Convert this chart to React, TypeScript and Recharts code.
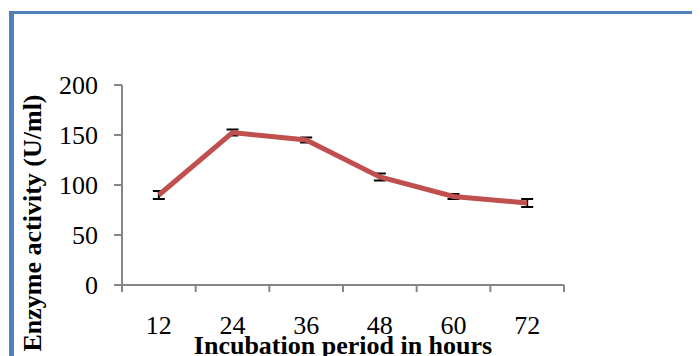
import React from 'react';
import { LineChart, Line, XAxis, YAxis, ErrorBar, Label } from 'recharts';

const categories = ['12', '24', '36', '48', '60', '72'];
const activity = [90, 152.5, 145, 108, 88.5, 82];
const errors = [4, 3, 2.5, 3.5, 2.5, 4];
const yTicks = [0, 50, 100, 150, 200];

const data = categories.map((c, i) => ({ hour: c, value: activity[i], err: errors[i] }));

const FONT = '"Liberation Serif", "Times New Roman", serif';
const AXIS = '#868686';

const XTick = (props: any) => {
  const { x, y, payload, index, visibleTicksCount } = props;
  const half = payload && payload.offset ? payload.offset : 0;
  const axisY = 277;
  const last = index === visibleTicksCount - 1;
  return (
    <g>
      <line x1={x - half} x2={x - half} y1={axisY} y2={axisY + 7} stroke={AXIS} strokeWidth={2} />
      {last && <line x1={x + half} x2={x + half} y1={axisY} y2={axisY + 7} stroke={AXIS} strokeWidth={2} />}
      <text x={x} y={326} textAnchor="middle" fontSize={26} fontFamily={FONT} fill="#000">
        {payload.value}
      </text>
    </g>
  );
};

const YTick = (props: any) => {
  const { y, payload } = props;
  return (
    <text x={90} y={y} dy="0.34em" textAnchor="end" fontSize={26} fontFamily={FONT} fill="#000">
      {payload.value}
    </text>
  );
};

export default function App() {
  return (
    <div style={{ position: 'relative', width: 692, height: 348 }}>
      <div
        style={{
          position: 'absolute',
          left: 1,
          top: 3,
          width: 691,
          height: 345,
          borderTop: '3px solid #4F81BD',
          borderLeft: '5px solid #4F81BD',
          boxSizing: 'border-box',
        }}
      />
      <div style={{ position: 'absolute', left: 0, top: 0 }}>
        <LineChart
          width={692}
          height={348}
          data={data}
          margin={{ top: 77, right: 136, bottom: 0, left: 0 }}
        >
          <XAxis
            dataKey="hour"
            scale="band"
            height={71}
            stroke={AXIS}
            strokeWidth={2}
            tickLine={false}
            tick={<XTick />}
            interval={0}
          >
            <Label
              content={() => (
                <text x={335} y={346} textAnchor="middle" fontSize={26} fontWeight="bold" fontFamily={FONT} fill="#000">
                  Incubation period in hours
                </text>
              )}
            />
          </XAxis>
          <YAxis
            width={114}
            domain={[0, 200]}
            ticks={yTicks}
            stroke={AXIS}
            strokeWidth={2}
            tickSize={8}
            tick={<YTick />}
            interval={0}
          >
            <Label
              content={() => (
                <text
                  x={0}
                  y={0}
                  transform="translate(33,215) rotate(-90)"
                  textAnchor="middle"
                  fontSize={26}
                  fontWeight="bold"
                  fontFamily={FONT}
                  fill="#000"
                >
                  Enzyme activity (U/ml)
                </text>
              )}
            />
          </YAxis>
          <Line
            type="linear"
            dataKey="value"
            stroke="#C0504D"
            strokeWidth={5}
            dot={false}
            isAnimationActive={false}
          >
            <ErrorBar dataKey="err" width={6} stroke="#000" strokeWidth={2} direction="y" />
          </Line>
        </LineChart>
      </div>
    </div>
  );
}
